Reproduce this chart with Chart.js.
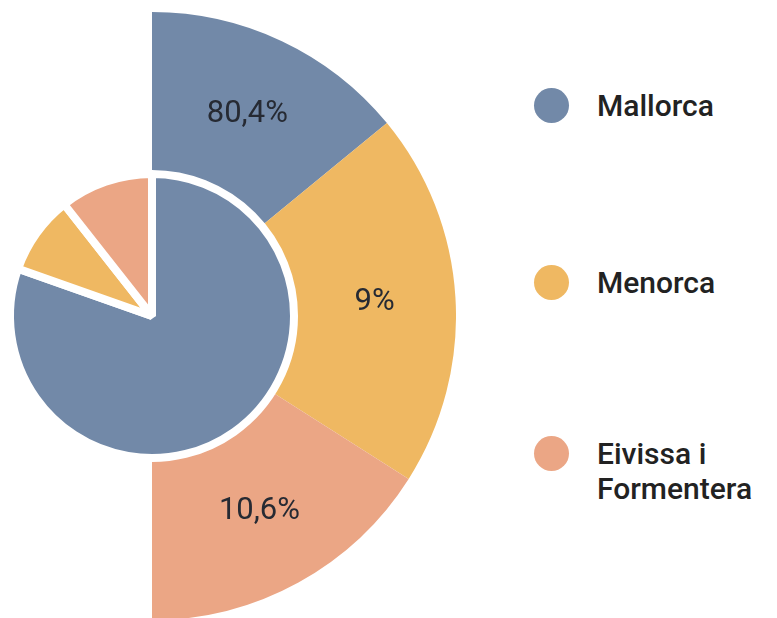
<!DOCTYPE html>
<html>
<head>
<meta charset="utf-8">
<script src="https://cdn.jsdelivr.net/npm/chart.js@4.4.1/dist/chart.umd.min.js"></script>
<style>
  html,body{margin:0;padding:0;background:#fff;}
  .wrap{position:relative;width:777px;height:618px;overflow:hidden;}
  #chart{position:absolute;left:-152px;top:12px;}
  .legend{position:absolute;left:534px;top:0;font-family:Roboto,sans-serif;font-weight:500;font-size:30px;color:#222;}
  .item{position:absolute;left:0;white-space:nowrap;}
  .dot{position:absolute;left:0;width:35px;height:35px;border-radius:50%;}
  .txt{position:absolute;left:63px;line-height:35px;}
</style>
</head>
<body>
<div class="wrap">
  <canvas id="chart" width="608" height="608"></canvas>
  <div class="legend" id="legend"></div>
</div>
<script>
/* islands + shares (inner pie) */
const islands=['Mallorca','Menorca','Eivissa i Formentera'];
const shares=[80.4,9,10.6];
/* outer half ring: angular size of each segment in degrees */
const ringAngles=[50.6,71.8,57.6];
const ringLabels=['80,4%','9%','10,6%'];
const colors=['#7289a8','#efb862','#eba685'];

/* draw the % labels in the middle of each outer segment */
const ringLabelPlugin={
  id:'ringLabels',
  afterDatasetsDraw(chart){
    const ctx=chart.ctx;
    const meta=chart.getDatasetMeta(0);
    ctx.save();
    ctx.font='400 31px Roboto, sans-serif';
    ctx.fillStyle='#262a33';
    ctx.textAlign='center';
    ctx.textBaseline='middle';
    meta.data.forEach((arc,i)=>{
      const p=arc.tooltipPosition();
      ctx.fillText(ringLabels[i],p.x,p.y);
    });
    ctx.restore();
  }
};

new Chart(document.getElementById('chart'),{
  type:'pie',
  data:{
    labels:islands,
    datasets:[{
      data:ringAngles,backgroundColor:colors,borderWidth:0,hoverBorderWidth:0,
      circumference:180,rotation:0,weight:162,order:1
    },{
      data:shares,backgroundColor:colors,borderColor:'#fff',borderWidth:8,hoverBorderWidth:8,
      circumference:360,rotation:0,weight:142,order:0
    }]
  },
  plugins:[ringLabelPlugin],
  options:{
    responsive:false,animation:false,
    layout:{padding:0},
    plugins:{legend:{display:false},tooltip:{enabled:false}}
  }
});

/* html legend */
const legendTop=[88,265,436];
const legend=document.getElementById('legend');
islands.forEach((name,i)=>{
  const it=document.createElement('div');
  it.className='item';
  it.style.top=legendTop[i]+'px';
  const parts=name==='Eivissa i Formentera'?['Eivissa i','Formentera']:[name];
  it.innerHTML=`<div class="dot" style="background:${colors[i]}"></div><div class="txt">${parts.join('<br>')}</div>`;
  legend.appendChild(it);
});
</script>
</body>
</html>
